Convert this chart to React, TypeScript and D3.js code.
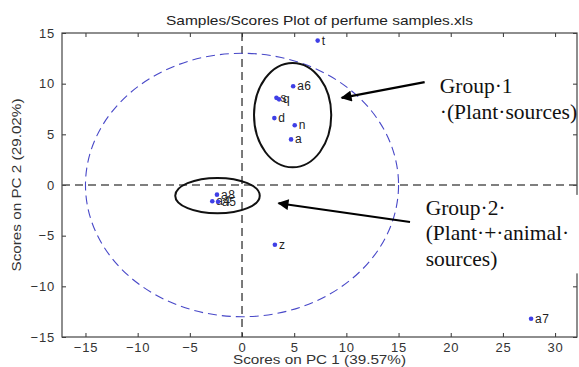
import React, { useEffect, useRef } from "react";
import * as d3 from "d3";

// sample scores (PC1, PC2)
const sampleNames = ["t", "a6", "s", "q", "d", "n", "a", "a8", "a4", "a5", "z", "a7"];
const pc1 = [7.25, 4.9, 3.3, 3.55, 3.1, 5.05, 4.7, -2.4, -2.85, -2.3, 3.15, 27.7];
const pc2 = [14.25, 9.75, 8.6, 8.45, 6.6, 5.9, 4.5, -0.95, -1.6, -1.65, -5.9, -13.2];

const xTicks = [-15, -10, -5, 0, 5, 10, 15, 20, 25, 30];
const yTicks = [-15, -10, -5, 0, 5, 10, 15];

const title = "Samples/Scores Plot of perfume samples.xls";
const xLabel = "Scores on PC 1 (39.57%)";
const yLabel = "Scores on PC 2 (29.02%)";

// 95% confidence limit ellipse (radii in score units)
const limitRadii = [15, 13];

// hand drawn group annotations, in score units
const groupNames = ["Group 1", "Group 2"];
const groupCenters = [[4.85, 6.9], [-2.35, -1.05]];
const groupRadii = [[3.7, 5.15], [4.05, 1.75]];
const arrowFrom = [[17.5, 10.15], [16.1, -3.65]];
const arrowTo = [[9.55, 8.6], [3.5, -1.8]];
const groupText = [
  ["Group·1", "·(Plant·sources)"],
  ["Group·2·", "(Plant·+·animal·", "sources)"],
];
const groupTextPos = [[18.95, 9.05], [17.6, -2.95]];

export default function App() {
  const ref = useRef(null);

  useEffect(() => {
    const width = 579;
    const height = 367;
    const left = 62, right = 577, top = 33, bottom = 337;

    const root = d3.select(ref.current);
    root.selectAll("*").remove();
    const svg = root
      .append("svg")
      .attr("width", width)
      .attr("height", height)
      .style("position", "absolute")
      .style("left", 0)
      .style("top", 0)
      .style("background", "#fff");

    const x = d3.scaleLinear().domain([-17.25, 32.1]).range([left, right]);
    const y = d3.scaleLinear().domain([-15, 15]).range([bottom, top]);

    const tickFont = "Liberation Sans, Arial, sans-serif";

    // axes, ticks pointing inward
    const styleAxis = (g, hideText) => {
      g.select(".domain").remove();
      g.selectAll("line").attr("stroke", "#333");
      g.selectAll("text")
        .attr("fill", "#333")
        .style("font-family", tickFont)
        .style("font-size", "13px")
        .style("letter-spacing", "0.8px");
      if (hideText) g.selectAll("text").remove();
    };

    svg.append("g")
      .attr("transform", `translate(0,${bottom})`)
      .call(d3.axisBottom(x).tickValues(xTicks).tickSizeInner(-4).tickSizeOuter(0).tickPadding(6))
      .call((g) => styleAxis(g, false));
    svg.append("g")
      .attr("transform", `translate(0,${top})`)
      .call(d3.axisTop(x).tickValues(xTicks).tickSizeInner(-4).tickSizeOuter(0))
      .call((g) => styleAxis(g, true));
    svg.append("g")
      .attr("transform", `translate(${left},0)`)
      .call(d3.axisLeft(y).tickValues(yTicks).tickSizeInner(-4).tickSizeOuter(0).tickPadding(7))
      .call((g) => styleAxis(g, false));
    svg.append("g")
      .attr("transform", `translate(${right},0)`)
      .call(d3.axisRight(y).tickValues(yTicks).tickSizeInner(-4).tickSizeOuter(0))
      .call((g) => styleAxis(g, true));

    // frame
    svg.append("rect")
      .attr("x", left)
      .attr("y", top)
      .attr("width", right - left)
      .attr("height", bottom - top)
      .attr("fill", "none")
      .attr("stroke", "#444")
      .attr("stroke-width", 1.2);

    // zero lines
    svg.append("line")
      .attr("x1", left).attr("x2", right)
      .attr("y1", y(0)).attr("y2", y(0))
      .attr("stroke", "#555")
      .attr("stroke-width", 1.3)
      .attr("stroke-dasharray", "8,5");
    svg.append("line")
      .attr("x1", x(0)).attr("x2", x(0))
      .attr("y1", top).attr("y2", bottom)
      .attr("stroke", "#333")
      .attr("stroke-width", 1.3)
      .attr("stroke-dasharray", "8,5");

    // confidence ellipse
    svg.append("ellipse")
      .attr("cx", x(0))
      .attr("cy", y(0))
      .attr("rx", x(limitRadii[0]) - x(0))
      .attr("ry", y(0) - y(limitRadii[1]))
      .attr("fill", "none")
      .attr("stroke", "#4848c8")
      .attr("stroke-width", 1.1)
      .attr("stroke-dasharray", "9,5");

    // sample points + names
    const pts = svg.append("g");
    sampleNames.forEach((name, i) => {
      pts.append("circle")
        .attr("cx", x(pc1[i]))
        .attr("cy", y(pc2[i]))
        .attr("r", 2.3)
        .attr("fill", "#3f3fe6");
      pts.append("text")
        .attr("x", x(pc1[i]) + 4)
        .attr("y", y(pc2[i]) + 4)
        .attr("fill", "#222")
        .style("font-family", tickFont)
        .style("font-size", "12px")
        .style("letter-spacing", "0.5px")
        .text(name);
    });

    // group annotations
    const ann = svg.append("g");
    const defs = svg.append("defs");
    defs.append("marker")
      .attr("id", "head")
      .attr("viewBox", "0 0 10 10")
      .attr("refX", 9)
      .attr("refY", 5)
      .attr("markerWidth", 5.5)
      .attr("markerHeight", 5)
      .attr("orient", "auto")
      .append("path")
      .attr("d", "M0,0 L10,5 L0,10 Z")
      .attr("fill", "#000");

    groupNames.forEach((g, i) => {
      ann.append("ellipse")
        .attr("cx", x(groupCenters[i][0]))
        .attr("cy", y(groupCenters[i][1]))
        .attr("rx", x(groupRadii[i][0]) - x(0))
        .attr("ry", y(0) - y(groupRadii[i][1]))
        .attr("fill", "none")
        .attr("stroke", "#111")
        .attr("stroke-width", 2);

      const tx = x(groupTextPos[i][0]);
      const ty = y(groupTextPos[i][1]);
      const lines = groupText[i];
      ann.append("rect")
        .attr("x", tx - 3)
        .attr("y", ty - 20)
        .attr("width", width - tx + 3)
        .attr("height", lines.length * 25.5 + 2)
        .attr("fill", i === 1 ? "#fff" : "none");
      lines.forEach((t, j) => {
        ann.append("text")
          .attr("x", tx)
          .attr("y", ty + j * 25.5)
          .attr("fill", "#111")
          .style("font-family", "Liberation Serif, Times New Roman, serif")
          .style("font-size", "21.5px")
          .text(t);
      });

      ann.append("line")
        .attr("x1", x(arrowFrom[i][0]))
        .attr("y1", y(arrowFrom[i][1]))
        .attr("x2", x(arrowTo[i][0]))
        .attr("y2", y(arrowTo[i][1]))
        .attr("stroke", "#000")
        .attr("stroke-width", 2.2)
        .attr("marker-end", "url(#head)");
    });

    // titles
    svg.append("text")
      .attr("x", (left + right) / 2)
      .attr("y", 25)
      .attr("text-anchor", "middle")
      .attr("fill", "#222")
      .attr("textLength", 307)
      .attr("lengthAdjust", "spacingAndGlyphs")
      .style("font-family", tickFont)
      .style("font-size", "13px")
      .text(title);
    svg.append("text")
      .attr("x", (left + right) / 2)
      .attr("y", 364)
      .attr("text-anchor", "middle")
      .attr("fill", "#333")
      .attr("textLength", 173)
      .attr("lengthAdjust", "spacingAndGlyphs")
      .style("font-family", tickFont)
      .style("font-size", "13px")
      .text(xLabel);
    svg.append("text")
      .attr("transform", `translate(21,${(top + bottom) / 2}) rotate(-90)`)
      .attr("text-anchor", "middle")
      .attr("fill", "#333")
      .attr("textLength", 173)
      .attr("lengthAdjust", "spacingAndGlyphs")
      .style("font-family", tickFont)
      .style("font-size", "13px")
      .text(yLabel);
  }, []);

  return <div ref={ref} />;
}
